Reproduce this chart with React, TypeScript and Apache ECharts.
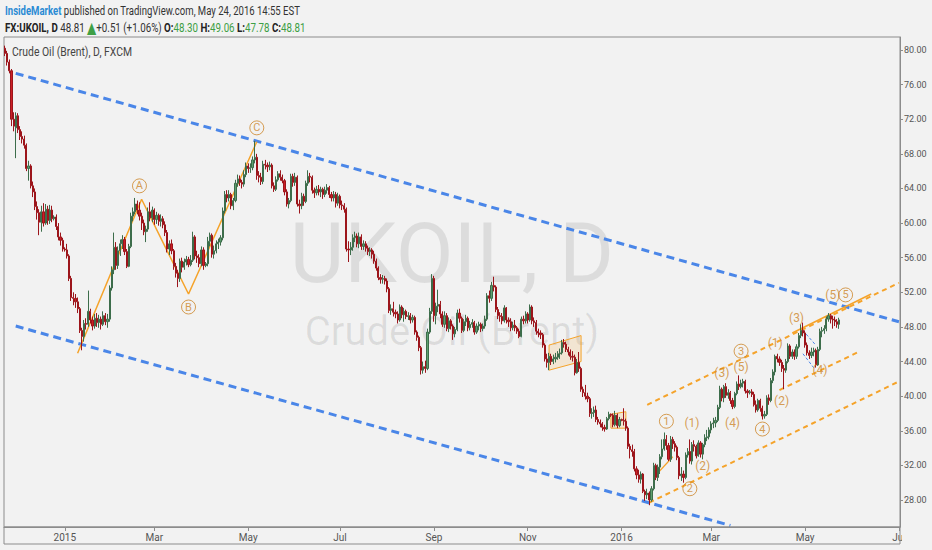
import React, { useEffect, useRef } from "react";
import * as echarts from "echarts";

// ---------- categories / ticks ----------
const firstDay = "2014-11-24";
const lastDay = "2016-07-01";
const xTicks = ["2015-01-01", "2015-03-02", "2015-05-01", "2015-07-01", "2015-09-01", "2015-11-02", "2016-01-01", "2016-03-01", "2016-05-02", "2016-07-01"];
const xTickLabels = ["2015", "Mar", "May", "Jul", "Sep", "Nov", "2016", "Mar", "May", "Jul"];
const yTicks = [28, 32, 36, 40, 44, 48, 52, 56, 60, 64, 68, 72, 76, 80];

// ---------- daily candles [open, close, low, high] ----------
const nov2014 = [[80.2,79.6,79.3,80.5],[79.6,78.6,78.2,79.9],[78.6,77.6,77.3,78.9],[77.6,72.0,71.2,77.8],[72.0,71.2,70.6,72.8]];
const dec2014 = [[71.0,72.4,67.5,72.8],[72.4,70.8,70.4,72.7],[70.8,70.0,69.6,71.2],[70.0,69.7,69.2,70.6],[69.7,69.0,68.6,70.1],
[69.0,66.3,66.0,69.2],[66.3,66.6,64.9,67.2],[66.6,64.3,64.0,66.8],[64.3,63.6,63.0,64.8],[63.6,61.9,61.5,64.0],
[61.9,61.2,60.4,62.5],[61.2,60.1,58.6,61.6],[60.1,61.3,59.0,62.0],[61.3,60.0,59.6,62.3],[60.0,61.6,59.8,62.2],
[61.6,60.3,59.8,62.0],[60.3,61.5,59.9,62.1],[61.5,60.5,60.1,62.0],[60.5,60.7,60.3,60.9],[60.7,59.6,59.2,61.0],
[59.6,58.4,58.0,60.0],[58.4,58.0,57.4,58.9],[58.0,57.0,56.7,58.3]];
const jan2015 = [[57.0,56.9,56.7,57.2],[56.9,56.2,55.9,57.6],[56.2,53.6,53.3,56.4],[53.6,51.4,51.0,53.9],[51.4,51.3,50.5,52.0],
[51.3,50.9,50.2,51.8],[50.9,50.1,49.6,51.4],[50.1,47.6,47.3,50.3],[47.6,46.9,45.3,47.9],[46.9,48.4,46.3,48.8],
[48.4,48.3,47.7,49.0],[48.3,49.8,48.0,52.2],[49.8,48.8,48.4,50.1],[48.8,48.1,47.6,49.2],[48.1,49.0,47.8,49.5],
[49.0,48.5,48.0,49.6],[48.5,48.9,47.9,49.4],[48.9,48.3,47.7,49.2],[48.3,49.3,48.1,49.8],[49.3,48.6,48.2,49.6],
[48.6,48.9,47.9,49.5],[48.9,52.5,48.6,52.8]];
const feb2015 = [[52.5,54.6,52.2,55.0],[54.6,57.2,54.1,58.9],[57.2,55.1,54.6,57.8],[55.1,56.8,54.7,57.3],[56.8,57.6,56.2,58.1],
[57.6,58.1,57.0,58.6],[58.1,56.7,56.3,58.4],[56.7,55.0,54.8,57.0],[55.0,57.3,54.9,57.6],[57.3,60.8,57.1,61.2],
[60.8,61.3,60.2,61.8],[61.3,62.2,61.0,62.9],[62.2,61.5,61.0,62.6],[61.5,60.8,60.3,62.4],[60.8,60.0,59.2,61.2],
[60.0,59.0,58.6,60.4],[59.0,59.3,57.8,59.7],[59.3,61.3,59.0,61.8],[61.3,60.6,60.2,62.4],[60.6,61.5,60.1,61.9]];
const mar2015 = [[61.5,60.4,59.8,61.7],[60.4,60.9,59.9,61.3],[60.9,60.2,59.7,61.1],[60.2,60.5,59.6,61.0],[60.5,59.8,59.4,60.8],
[59.8,58.9,58.5,60.2],[58.9,57.0,56.6,59.2],[57.0,57.6,56.3,58.0],[57.6,56.8,56.4,58.1],[56.8,55.0,54.6,57.0],
[55.0,54.2,53.7,55.4],[54.2,53.6,52.6,54.6],[53.6,55.6,53.2,55.9],[55.6,54.9,54.3,56.0],[54.9,55.5,54.6,55.9],
[55.5,55.8,55.1,56.2],[55.8,55.2,54.9,56.1],[55.2,55.7,55.0,56.3],[55.7,58.4,55.5,59.0],[58.4,56.2,55.8,58.6],
[56.2,56.0,55.4,56.8],[56.0,55.3,54.9,56.4]];
const apr2015 = [[55.3,56.9,55.0,57.3],[56.9,55.1,54.6,57.2],[55.1,55.3,54.9,55.5],[55.3,57.9,55.0,58.4],[57.9,58.6,57.3,58.9],
[58.6,56.4,56.0,58.8],[56.4,56.8,55.9,57.4],[56.8,57.6,56.5,58.0],[57.6,57.8,57.0,58.2],[57.8,58.3,57.4,58.6],
[58.3,61.4,58.0,61.8],[61.4,63.3,61.1,63.7],[63.3,62.9,62.4,63.8],[62.9,63.3,62.5,63.8],[63.3,62.0,61.6,63.5],
[62.0,62.6,61.5,62.9],[62.6,64.6,62.4,65.0],[64.6,65.1,64.2,65.6],[65.1,64.7,64.3,65.5],[64.7,64.5,64.0,65.0],
[64.5,65.6,64.2,66.1],[65.6,66.6,65.3,67.0]];
const may2015 = [[66.6,66.3,65.8,66.9],[66.3,66.4,65.8,66.9],[66.4,67.3,66.1,67.7],[67.3,67.6,66.9,69.5],[67.6,65.5,65.0,68.0],
[65.5,65.3,64.7,66.0],[65.3,64.8,64.4,65.8],[64.8,66.8,64.5,67.2],[66.8,66.7,66.2,67.3],[66.7,66.5,65.9,67.0],
[66.5,66.7,66.1,67.1],[66.7,64.3,64.0,66.9],[64.3,63.9,63.6,64.7],[63.9,65.0,63.7,65.4],[65.0,65.7,64.8,66.0],
[65.7,65.3,64.9,66.1],[65.3,64.9,64.6,65.6],[64.9,63.6,63.2,65.1],[63.6,62.2,61.9,63.9],[62.2,62.6,61.7,62.9],
[62.6,65.4,62.4,65.7]];
const jun2015 = [[65.4,64.7,64.2,65.7],[64.7,65.3,64.3,65.8],[65.3,62.2,61.9,65.5],[62.2,62.0,61.1,62.7],[62.0,63.1,61.6,63.5],
[63.1,62.5,62.0,63.4],[62.5,64.6,62.3,64.9],[64.6,65.4,64.3,66.1],[65.4,65.3,64.7,65.8],[65.3,63.8,63.4,65.5],
[63.8,63.5,62.9,64.1],[63.5,63.9,63.2,64.3],[63.9,63.6,63.2,64.4],[63.6,63.9,63.0,64.2],[63.9,63.3,62.8,64.1],
[63.3,63.8,63.0,64.2],[63.8,64.1,63.4,64.5],[64.1,63.3,62.9,64.3],[63.3,62.9,62.5,63.6],[62.9,63.3,62.5,63.7],
[63.3,62.3,61.8,63.6],[62.3,63.1,62.0,63.5]];
const jul2015 = [[63.1,62.1,61.7,63.3],[62.1,62.0,61.5,62.6],[62.0,61.6,61.2,62.3],[61.6,57.0,56.7,61.8],[57.0,56.9,55.5,57.9],
[56.9,57.2,56.3,57.8],[57.2,58.3,56.8,58.7],[58.3,58.5,57.8,59.0],[58.5,57.6,57.2,58.8],[57.6,58.4,57.1,58.9],
[58.4,57.3,56.9,58.7],[57.3,57.6,56.9,58.0],[57.6,57.1,56.7,57.9],[57.1,56.7,56.3,57.4],[56.7,56.9,56.2,57.2],
[56.9,56.4,55.9,57.1],[56.4,55.6,55.3,56.8],[55.6,54.8,54.5,55.9],[54.8,53.7,53.4,55.0],[53.7,53.5,53.0,54.1],
[53.5,53.6,53.0,54.0],[53.6,53.3,52.9,53.9],[53.3,52.4,52.0,53.6]];
const aug2015 = [[52.4,49.9,49.6,52.6],[49.9,50.1,49.4,50.6],[50.1,49.7,49.2,50.9],[49.7,49.5,49.0,50.0],[49.5,48.8,48.4,49.8],
[48.8,50.3,48.6,50.6],[50.3,49.4,49.0,50.5],[49.4,49.8,48.6,50.2],[49.8,49.2,48.9,50.0],[49.2,49.3,48.8,49.7],
[49.3,48.8,48.4,49.6],[48.8,49.1,48.5,49.4],[49.1,47.4,47.1,49.3],[47.4,46.8,46.4,47.6],[46.8,45.6,45.2,47.0],
[45.6,43.0,42.5,45.8],[43.0,43.4,42.6,44.0],[43.4,43.2,42.7,44.1],[43.2,47.4,43.0,47.8],[47.4,49.8,47.2,50.2],
[49.8,53.6,49.5,54.1]];
const sep2015 = [[53.6,49.3,48.6,53.9],[49.3,50.4,48.3,50.8],[50.4,50.6,49.7,52.3],[50.6,49.5,49.0,51.0],[49.5,48.3,48.0,49.8],
[48.3,49.3,47.9,49.8],[49.3,47.8,47.5,49.6],[47.8,48.7,47.4,49.1],[48.7,48.1,47.7,48.9],[48.1,47.2,46.5,48.3],
[47.2,47.7,46.8,48.0],[47.7,49.6,47.5,50.0],[49.6,49.0,48.5,50.1],[49.0,47.6,47.3,49.2],[47.6,48.6,47.4,48.9],
[48.6,49.0,48.1,49.4],[49.0,47.9,47.5,49.2],[47.9,48.3,47.6,48.7],[48.3,48.5,47.9,48.9],[48.5,47.4,47.1,48.7],
[47.4,48.1,47.2,48.4],[48.1,48.3,47.6,48.6]];
const oct2015 = [[48.3,47.8,47.4,48.5],[47.8,48.1,47.5,48.4],[48.1,48.9,47.8,49.3],[48.9,51.6,48.7,51.9],[51.6,51.3,50.8,52.2],
[51.3,52.8,51.0,53.2],[52.8,52.6,52.1,53.8],[52.6,50.0,49.7,52.8],[50.0,49.3,48.9,50.3],[49.3,49.2,48.6,49.7],
[49.2,48.7,48.3,49.6],[48.7,50.2,48.5,50.5],[50.2,48.8,48.4,50.3],[48.8,48.6,48.0,49.1],[48.6,47.9,47.5,49.0],
[47.9,48.2,47.6,48.6],[48.2,47.9,47.5,48.8],[47.9,47.5,47.2,48.1],[47.5,46.9,46.7,47.8],[46.9,48.9,46.8,49.2],
[48.9,48.7,48.3,49.3],[48.7,49.5,48.4,49.8]];
const nov2015 = [[49.5,48.8,48.4,49.7],[48.8,50.3,48.6,50.6],[50.3,48.7,48.3,50.5],[48.7,48.5,48.0,49.1],[48.5,47.5,47.1,48.8],
[47.5,47.3,46.8,47.8],[47.3,47.1,46.6,47.6],[47.1,45.9,45.6,47.3],[45.9,44.3,44.0,46.1],[44.3,43.9,43.3,44.9],
[43.9,44.6,43.0,45.0],[44.6,44.0,43.6,44.9],[44.0,44.3,43.7,44.8],[44.3,44.5,43.9,45.0],[44.5,44.9,44.2,45.2],
[44.9,45.0,44.3,45.5],[45.0,46.2,44.8,46.5],[46.2,46.0,45.6,46.6],[46.0,45.4,45.1,46.3],[45.4,45.1,44.7,45.7],
[45.1,44.6,44.2,45.4]];
const dec2015 = [[44.6,44.5,44.0,45.2],[44.5,42.7,42.4,44.8],[42.7,43.9,42.6,44.3],[43.9,43.2,42.8,45.1],[43.2,40.8,40.5,43.4],
[40.8,40.4,39.9,41.1],[40.4,40.0,39.6,41.3],[40.0,39.7,39.3,40.4],[39.7,38.0,37.6,39.9],[38.0,38.1,37.4,38.6],
[38.1,38.4,37.6,38.8],[38.4,37.3,37.0,38.9],[37.3,37.0,36.7,37.6],[37.0,36.8,36.4,37.3],[36.8,36.4,36.0,37.0],
[36.4,36.2,35.9,36.7],[36.2,37.4,36.1,37.6],[37.4,37.9,37.2,38.2],[37.9,37.8,37.6,38.0],[37.8,36.7,36.4,38.0],
[36.7,37.8,36.5,38.3],[37.8,36.6,36.3,38.0],[36.6,37.3,36.4,37.6]];
const jan2016 = [[37.3,37.2,37.1,37.4],[37.2,37.1,36.6,38.6],[37.1,36.3,36.0,37.4],[36.3,34.2,33.9,36.5],[34.2,33.8,32.8,34.5],
[33.8,33.6,33.0,34.4],[33.6,31.6,31.3,33.9],[31.6,30.9,30.4,31.9],[30.9,30.4,30.0,31.5],[30.4,31.0,29.9,31.3],
[31.0,29.0,28.8,31.1],[29.0,28.6,27.9,29.2],[28.6,28.8,28.1,29.3],[28.8,28.0,27.4,29.0],[28.0,29.3,27.8,29.6],
[29.3,32.0,29.1,32.3],[32.0,30.6,30.3,32.2],[30.6,31.8,30.2,32.1],[31.8,33.0,31.0,33.3],[33.0,33.9,32.7,35.0],
[33.9,35.0,33.7,35.8]];
const feb2016 = [[35.0,34.3,33.8,35.5],[34.3,32.7,32.5,34.6],[32.7,35.0,32.4,35.4],[35.0,34.5,33.9,35.3],[34.5,34.1,33.6,34.8],
[34.1,32.9,32.6,34.3],[32.9,30.8,30.4,33.1],[30.8,31.0,30.2,31.8],[31.0,30.6,30.0,31.4],[30.6,33.2,30.4,33.5],
[33.2,33.6,32.9,34.0],[33.6,32.5,32.2,35.0],[32.5,34.4,32.1,34.7],[34.4,34.2,33.6,34.9],[34.2,33.1,32.8,34.4],
[33.1,34.6,33.0,34.9],[34.6,33.3,32.9,34.8],[33.3,34.4,32.7,34.6],[34.4,35.2,34.1,35.6],[35.2,35.3,34.8,36.1],
[35.3,36.1,35.0,36.4]];
const mar2016 = [[36.1,36.8,35.7,37.1],[36.8,36.9,36.3,37.5],[36.9,37.2,36.4,37.6],[37.2,38.7,37.0,39.0],[38.7,40.8,38.5,41.2],
[40.8,39.8,39.4,41.0],[39.8,41.1,39.3,41.3],[41.1,40.1,39.8,41.5],[40.1,40.4,39.7,40.8],[40.4,39.5,39.1,40.6],
[39.5,38.8,38.5,39.8],[38.8,40.3,38.6,40.5],[40.3,41.4,40.1,41.7],[41.4,41.1,40.7,42.4],[41.1,41.5,40.9,41.9],
[41.5,41.7,41.0,42.0],[41.7,40.6,40.3,41.9],[40.6,40.4,39.8,40.8],[40.4,40.5,40.2,40.7],[40.5,40.2,39.9,40.8],
[40.2,39.0,38.8,40.5],[39.0,38.4,38.1,39.5],[38.4,39.5,38.2,39.7]];
const apr2016 = [[39.5,38.6,38.2,39.7],[38.6,37.7,37.3,38.9],[37.7,37.9,37.4,38.3],[37.9,39.8,37.7,40.1],[39.8,39.5,39.0,40.2],
[39.5,41.8,39.3,42.1],[41.8,42.8,41.5,43.1],[42.8,44.6,42.4,44.8],[44.6,44.3,43.9,44.9],[44.3,43.9,43.5,44.6],
[43.9,43.2,42.8,44.2],[43.2,43.0,40.8,43.6],[43.0,44.0,42.7,44.3],[44.0,45.8,43.8,46.1],[45.8,44.6,44.3,46.0],
[44.6,45.1,44.3,45.4],[45.1,44.6,44.2,45.4],[44.6,45.7,44.3,46.0],[45.7,47.0,45.5,47.3],[47.0,47.6,46.7,48.3],
[47.6,47.3,46.9,48.5]];
const may2016 = [[47.3,45.9,45.6,47.6],[45.9,45.0,44.7,46.2],[45.0,44.7,44.3,45.3],[44.7,45.1,44.4,45.6],[45.1,45.3,44.6,45.6],
[45.3,43.6,43.3,45.5],[43.6,45.4,43.5,45.7],[45.4,47.5,45.2,47.8],[47.5,47.6,46.8,48.0],[47.6,47.8,47.2,48.2],
[47.8,48.9,47.5,49.2],[48.9,49.3,48.6,49.6],[49.3,48.9,48.4,49.5],[48.9,48.8,47.8,49.3],[48.8,48.6,48.1,49.2],
[48.6,48.3,47.9,48.9],[48.30,48.81,47.78,49.06]];

// ---------- drawings: [category index, price] ----------
const blueUpperLine = [[5, 77.3], [419, 48.6]];
const blueLowerLine = [[5, 48.1], [340, 25.05]];
const channelUpper = [[301, 39.0], [419, 53.1]];
const channelMiddle = [[363, 40.7], [400, 45.1]];
const channelLower = [[302, 27.7], [419, 41.7]];
const trendSolid = [[369, 47.3], [406, 51.8]];
const wave1Trend = [[304, 30.6], [313, 33.0]];
const abcZigzag = [[34, 44.95], [64, 62.75], [86, 51.8], [118, 69.4]];
const wedgeUpper = [[374, 47.6], [380, 45.9]];
const wedgeLower = [[374, 44.9], [379, 43.3]];
const flagNov = [[255, 45.9], [270, 47.0], [270, 44.0], [255, 43.0]];
const flagDec = [[284, 37.9], [291, 38.2], [291, 36.3], [284, 36.3]];
// [text, index, price, circled]
const waveLabels: [string, number, number, number][] = [
  ["A", 63, 64.3, 1], ["B", 86, 50.3, 1], ["C", 118, 71.0, 1],
  ["1", 310, 37.1, 1], ["2", 321, 29.3, 1], ["3", 345, 45.2, 1], ["4", 355, 36.2, 1], ["5", 394, 51.7, 1],
  ["(1)", 322, 36.9, 0], ["(2)", 327, 31.9, 0], ["(3)", 336, 42.7, 0], ["(4)", 341, 36.9, 0], ["(5)", 345, 43.4, 0],
  ["(1)", 361, 46.1, 0], ["(2)", 364, 39.4, 0], ["(3)", 371, 49.0, 0], ["(4)", 382, 43.0, 0], ["(5)", 388, 51.7, 0],
];

function tradingDays(from: string, to: string): string[] {
  const out: string[] = [];
  const d = new Date(from + "T00:00:00Z");
  const end = new Date(to + "T00:00:00Z");
  while (d.getTime() <= end.getTime()) {
    const w = d.getUTCDay();
    if (w !== 0 && w !== 6) out.push(d.toISOString().slice(0, 10));
    d.setUTCDate(d.getUTCDate() + 1);
  }
  return out;
}

const BLUE = "#4a86e8";
const ORANGE = "#f5a32a";
const LABEL = "#cd8629";
const BG = "#f2f2f2";
const FONT = "Roboto";

export default function App() {
  const ref = useRef<HTMLDivElement>(null);
  useEffect(() => {
    if (!ref.current) return;
    const chart = echarts.init(ref.current, null, { renderer: "svg" });
    const categories = tradingDays(firstDay, lastDay);
    const candles = [
      ...nov2014, ...dec2014, ...jan2015, ...feb2015, ...mar2015, ...apr2015, ...may2015, ...jun2015,
      ...jul2015, ...aug2015, ...sep2015, ...oct2015, ...nov2015, ...dec2015, ...jan2016, ...feb2016,
      ...mar2016, ...apr2016, ...may2016,
    ];
    const flags = [flagNov, flagDec];
    const tickFn = (_i: number, v: string) => xTicks.indexOf(v) >= 0;
    const seg = (data: number[][], color: string, width: number, type: any, extra: any = {}) => ({
      type: "line", data, symbol: "none", showSymbol: false, silent: true, z: 3,
      lineStyle: { color, width, type }, ...extra,
    });
    const option: any = {
      animation: false,
      backgroundColor: BG,
      grid: {
        left: 4, right: 32, top: 37, bottom: 23, show: true, borderColor: "#8c8c8c", borderWidth: 1,
        backgroundColor: "transparent", containLabel: false, outerBoundsMode: "none",
      },
      xAxis: {
        type: "category", data: categories, boundaryGap: true,
        axisLine: { show: true, lineStyle: { color: "#8c8c8c", width: 1 } },
        axisTick: { show: true, alignWithLabel: true, interval: tickFn, length: 4, lineStyle: { color: "#8c8c8c" } },
        axisLabel: {
          show: true, interval: tickFn, color: "#555", fontSize: 10, fontFamily: FONT, margin: 5,
          formatter: (v: string) => { const k = xTicks.indexOf(v); return k >= 0 ? xTickLabels[k] : ""; },
        },
        splitLine: { show: false },
      },
      yAxis: {
        type: "value", position: "right", min: 24.88, max: 81.5,
        axisLine: { show: true, lineStyle: { color: "#8c8c8c", width: 1 } },
        axisTick: { show: true, length: 3, customValues: yTicks, lineStyle: { color: "#8c8c8c" } },
        axisLabel: { show: true, customValues: yTicks, color: "#555", fontSize: 9, fontFamily: FONT, margin: 4, formatter: (v: number) => v.toFixed(2) },
        splitLine: { show: false },
      },
      series: [
        {
          type: "custom", z: 2, silent: true, clip: true,
          data: flags.map((f, k) => [f[0][0], f[0][1], k]),
          encode: { x: 0, y: 1 },
          renderItem: (_p: any, api: any) => {
            const f = flags[api.value(2)];
            return {
              type: "polygon",
              shape: { points: f.map((pt) => api.coord(pt)) },
              style: { fill: "rgba(245,163,42,0.16)", stroke: ORANGE, lineWidth: 1 },
            };
          },
        },
        {
          type: "candlestick", data: candles, barWidth: 1.6, z: 4, silent: true,
          itemStyle: { color: "#5d9f6f", color0: "#cc1f26", borderColor: "#3d6d4b", borderColor0: "#9c151b", borderWidth: 1 },
        },
        seg(blueUpperLine, BLUE, 3, [8, 5]),
        seg(blueLowerLine, BLUE, 3, [8, 5]),
        seg(channelUpper, ORANGE, 2, [5, 4]),
        seg(channelMiddle, ORANGE, 2, [5, 4]),
        seg(channelLower, ORANGE, 2, [5, 4]),
        seg(trendSolid, ORANGE, 1.5, "solid"),
        seg(wave1Trend, ORANGE, 1.2, "solid"),
        seg(wedgeUpper, BLUE, 1, [3, 2]),
        seg(wedgeLower, BLUE, 1, [3, 2]),
        seg(abcZigzag, ORANGE, 1.5, "solid", {
          symbol: "emptyCircle", showSymbol: true, symbolSize: 5, itemStyle: { color: ORANGE, borderColor: ORANGE, borderWidth: 1 },
        }),
        {
          type: "scatter", z: 6, silent: true, symbol: "circle", symbolSize: 0, itemStyle: { color: "rgba(0,0,0,0)" },
          data: waveLabels.map(([t, i, p, c]) => ({ value: [i, p], name: t, circ: c })),
          label: {
            show: true, position: "inside",
            formatter: (prm: any) => (prm.data.circ ? `{c|${prm.name}}` : `{p|${prm.name}}`),
            rich: {
              c: {
                color: LABEL, fontSize: 11, fontFamily: FONT, width: 14, height: 14, lineHeight: 14, align: "center",
                borderColor: LABEL, borderWidth: 1, borderRadius: 8,
              },
              p: { color: LABEL, fontSize: 12, fontFamily: FONT },
            },
          },
        },
      ],
      graphic: [
        {
          type: "text", x: 452, y: 253, z: 1, silent: true,
          style: { text: "UKOIL, D", fontSize: 84, fontFamily: FONT, fill: "rgba(0,0,0,0.09)", align: "center", verticalAlign: "middle" },
        },
        {
          type: "text", x: 452, y: 331, z: 1, silent: true,
          style: { text: "Crude Oil (Brent)", fontSize: 40, fontFamily: FONT, fill: "rgba(0,0,0,0.09)", align: "center", verticalAlign: "middle" },
        },
        {
          type: "text", x: 5, y: 10, z: 10, scaleX: 0.735, silent: true,
          style: {
            text: "{b|InsideMarket} published on TradingView.com, May 24, 2016 14:55 EST",
            fontSize: 13, fontFamily: FONT, fill: "#333", verticalAlign: "middle",
            rich: { b: { fill: "#2a8bd4", fontSize: 13, fontFamily: FONT, fontWeight: "bold" } },
          },
        },
        {
          type: "text", x: 5, y: 27, z: 10, scaleX: 0.75, silent: true,
          style: {
            text: "{k|FX:UKOIL, D} 48.81 {t|▲}+0.51 (+1.06%) {k|O:}{g|48.30} {k|H:}{g|49.06} {k|L:}{g|47.78} {k|C:}{g|48.81}",
            fontSize: 13, fontFamily: FONT, fill: "#333", verticalAlign: "middle",
            rich: {
              k: { fill: "#222", fontSize: 13, fontFamily: FONT, fontWeight: "bold" },
              g: { fill: "#3e9f45", fontSize: 13, fontFamily: FONT },
              t: { fill: "#3e9f45", fontSize: 16, fontFamily: "DejaVu Sans" },
            },
          },
        },
        {
          type: "text", x: 12, y: 52, z: 10, scaleX: 0.8, silent: true,
          style: { text: "Crude Oil (Brent), D, FXCM", fontSize: 13, fontFamily: FONT, fill: "#444", verticalAlign: "middle" },
        },
        {
          type: "rect", z: 10, silent: true,
          shape: { x: 4, y: 527, width: 896, height: 17 },
          style: { fill: "none", stroke: "#8c8c8c", lineWidth: 1 },
        },
        {
          type: "rect", z: 100, silent: true,
          shape: { x: 902, y: 529, width: 30, height: 21 },
          style: { fill: BG, stroke: "none" },
        },
      ],
    };
    chart.setOption(option);
    return () => chart.dispose();
  }, []);
  return <div ref={ref} style={{ position: "fixed", left: 0, top: 0, width: 932, height: 550 }} />;
}
